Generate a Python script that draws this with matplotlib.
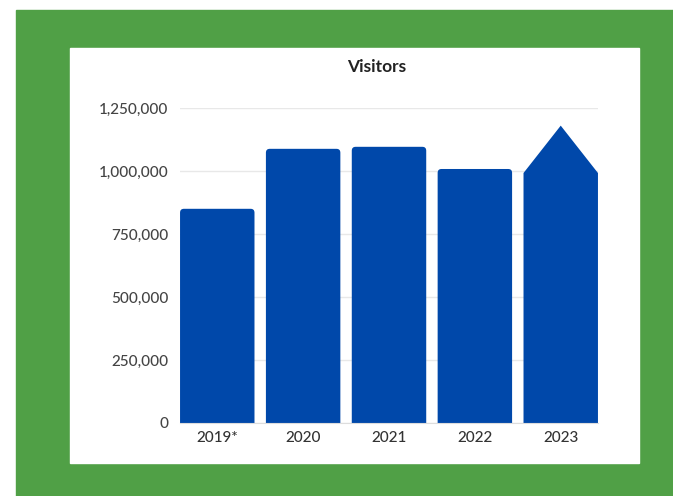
import matplotlib
matplotlib.use("Agg")
import matplotlib.pyplot as plt
from matplotlib.patches import Rectangle, FancyBboxPatch, Polygon
from matplotlib.ticker import FuncFormatter

# data
years = ["2019*", "2020", "2021", "2022", "2023"]
visitors = [850000, 1088000, 1096000, 1008000, 992000]
arrow_peak_2023 = 1180000
y_ticks = [0, 250000, 500000, 750000, 1000000, 1250000]

GREEN = "#50a046"
BLUE = "#0048aa"
TEXT = "#444444"
GRID = "#e8e8e8"

plt.rcParams["font.family"] = ["Lato", "DejaVu Sans"]

W, H = 673, 496
fig = plt.figure(figsize=(W / 100, H / 100), dpi=100, facecolor="white")

# green frame + white panel (figure coords)
fig.patches.append(Rectangle((16 / W, 0), 1 - 16 / W, 1 - 10 / H,
                             transform=fig.transFigure, color=GREEN, zorder=-2))
fig.patches.append(Rectangle((70 / W, 1 - 463 / H), (639 - 70) / W, (463 - 48) / H,
                             transform=fig.transFigure, color="white", zorder=-1))

ax = fig.add_axes([180 / W, 73 / H, 418 / W, 315 / H])
ax.set_zorder(1)
ax.set_facecolor("none")

bars = ax.bar(range(len(years)), visitors, width=0.867, color=BLUE, zorder=2)

# swap plain bars for rounded ones; last bar becomes an up arrow
px_x = 418 / 4.868          # pixels per x unit
px_y = 315 / 1250000        # pixels per y unit
aspect = px_x / px_y
for i, b in enumerate(bars):
    x0, w, h = b.get_x(), b.get_width(), b.get_height()
    b.set_visible(False)
    if i == len(bars) - 1:
        pts = [(x0, 0), (x0, h), (x0 + w / 2, arrow_peak_2023), (x0 + w, h), (x0 + w, 0)]
        ax.add_patch(Polygon(pts, closed=True, color=BLUE, zorder=2, lw=0))
    else:
        ax.add_patch(FancyBboxPatch((x0, -20000), w, h + 20000,
                                    boxstyle="round,pad=0,rounding_size=0.045",
                                    mutation_aspect=aspect,
                                    color=BLUE, lw=0, zorder=2))

ax.set_xlim(-0.434, 4.434)
ax.set_ylim(0, 1250000)
ax.set_yticks(y_ticks)
ax.yaxis.set_major_formatter(FuncFormatter(lambda v, _: f"{int(v):,}"))
ax.set_xticks(range(len(years)))
ax.set_xticklabels(years)

ax.grid(axis="y", color=GRID, lw=1, zorder=0)
ax.set_axisbelow(True)
for s in ["top", "right", "left"]:
    ax.spines[s].set_visible(False)
ax.spines["bottom"].set_color("#dddddd")
ax.tick_params(axis="both", length=0, labelsize=11, colors=TEXT)
ax.tick_params(axis="y", pad=8.5)
ax.tick_params(axis="x", pad=6)
for lbl in ax.get_xticklabels() + ax.get_yticklabels():
    lbl.set_fontweight("medium")
for lbl in ax.get_xticklabels():
    lbl.set_color("#333333")

fig.text(377 / W, 1 - 67 / H, "Visitors", ha="center", va="center",
         fontsize=12.5, fontweight="bold", color="#222222")

fig.savefig("out.png", dpi=100, facecolor=fig.get_facecolor())
